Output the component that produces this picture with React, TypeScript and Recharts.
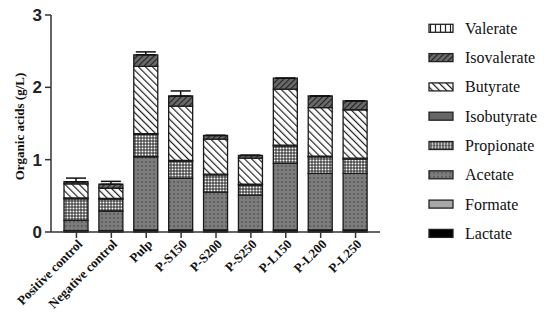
import { BarChart, Bar, XAxis, YAxis, Legend, ErrorBar, Label } from 'recharts'

const CATEGORIES = ['Positive control', 'Negative control', 'Pulp', 'P-S150', 'P-S200', 'P-S250', 'P-L150', 'P-L200', 'P-L250']

// g/L (bottom to top)
const LACTATE = [0.02, 0.02, 0.03, 0.03, 0.03, 0.03, 0.03, 0.03, 0.03]
const FORMATE = [0, 0, 0, 0, 0, 0, 0, 0, 0]
const ACETATE = [0.14, 0.27, 1.01, 0.71, 0.52, 0.48, 0.92, 0.78, 0.78]
const PROPIONATE = [0.3, 0.165, 0.31, 0.24, 0.24, 0.14, 0.24, 0.23, 0.2]
const ISOBUTYRATE = [0.01, 0.01, 0.01, 0.01, 0.01, 0.01, 0.01, 0.01, 0.01]
const BUTYRATE = [0.195, 0.14, 0.93, 0.75, 0.485, 0.36, 0.776, 0.67, 0.67]
const ISOVALERATE = [0.03, 0.055, 0.16, 0.14, 0.05, 0.04, 0.15, 0.16, 0.124]
const VALERATE = [0, 0, 0, 0, 0, 0, 0, 0, 0]
const TOTAL_ERR = [0.05, 0.04, 0.04, 0.07, 0, 0, 0, 0, 0]

const Y_TICKS = [0, 1, 2, 3]

const SERIES = [
  { key: 'Lactate', fill: '#000' },
  { key: 'Formate', fill: '#a8a8a8' },
  { key: 'Acetate', fill: 'url(#pAcetate)' },
  { key: 'Propionate', fill: 'url(#pPropionate)' },
  { key: 'Isobutyrate', fill: '#666' },
  { key: 'Butyrate', fill: 'url(#pButyrate)' },
  { key: 'Isovalerate', fill: 'url(#pIsovalerate)' },
  { key: 'Valerate', fill: 'url(#pValerate)' },
]

const data = CATEGORIES.map((name, i) => ({
  name,
  Lactate: LACTATE[i],
  Formate: FORMATE[i],
  Acetate: ACETATE[i],
  Propionate: PROPIONATE[i],
  Isobutyrate: ISOBUTYRATE[i],
  Butyrate: BUTYRATE[i],
  Isovalerate: ISOVALERATE[i],
  Valerate: VALERATE[i],
  err: [0, TOTAL_ERR[i]],
}))

const SERIF = 'Liberation Serif, Times New Roman, serif'

const XTick = ({ x, y, payload }: any) => (
  <g transform={`translate(${x + 4},${y + 2})`}>
    <text x={0} y={0} dy={4} textAnchor="end" transform="rotate(-45)"
      fontFamily={SERIF} fontWeight="bold" fontSize={13} fill="#111">
      {payload.value}
    </text>
  </g>
)

// legend drawn top-down, Valerate first
const LegendBox = () => (
  <svg width={122} height={240}>
    {[...SERIES].reverse().map((s, i) => (
      <g key={s.key} transform={`translate(0,${14.3 + i * 29.3})`}>
        <rect x={1} y={-4} width={24} height={8} fill={s.fill} stroke="#222" strokeWidth={1.3} />
        <text x={37} y={5.5} fontFamily={SERIF} fontSize={16} fill="#111">{s.key}</text>
      </g>
    ))}
  </svg>
)

export default function App() {
  return (
    <div style={{ position: 'absolute', left: 0, top: 0, background: '#fff' }}>
      <BarChart width={550} height={333} data={data} barSize={24}
        margin={{ top: 15, right: 48, bottom: 0, left: 0 }}>
        <defs>
          <pattern id="pValerate" width="5" height="5" patternUnits="userSpaceOnUse">
            <rect width="5" height="5" fill="#fff" />
            <line x1="2.5" y1="0" x2="2.5" y2="5" stroke="#222" strokeWidth="1.2" />
          </pattern>
          <pattern id="pIsovalerate" width="4" height="4" patternUnits="userSpaceOnUse" patternTransform="rotate(45)">
            <rect width="4" height="4" fill="#6a6a6a" />
            <line x1="0" y1="0" x2="0" y2="4" stroke="#222" strokeWidth="2.2" />
          </pattern>
          <pattern id="pButyrate" width="5" height="5" patternUnits="userSpaceOnUse" patternTransform="rotate(-45)">
            <rect width="5" height="5" fill="#fff" />
            <line x1="0" y1="0" x2="0" y2="5" stroke="#222" strokeWidth="2.4" />
          </pattern>
          <pattern id="pPropionate" width="3" height="3" patternUnits="userSpaceOnUse">
            <rect width="3" height="3" fill="#222" />
            <rect x="0.5" y="0.5" width="2" height="2" fill="#fff" />
          </pattern>
          <pattern id="pAcetate" width="4" height="4" patternUnits="userSpaceOnUse">
            <rect width="4" height="4" fill="#7c7c7c" />
            <circle cx="2" cy="2" r="0.7" fill="#333" />
          </pattern>
        </defs>
        <XAxis dataKey="name" interval={0} height={101} tickSize={6} padding={{ left: 8, right: 7 }}
          axisLine={{ stroke: '#333', strokeWidth: 1.5 }} tickLine={{ stroke: '#333', strokeWidth: 1.5 }}
          tick={<XTick />} />
        <YAxis domain={[0, 3]} ticks={Y_TICKS} width={51} tickSize={6} tickMargin={3}
          axisLine={{ stroke: '#333', strokeWidth: 1.5 }} tickLine={{ stroke: '#333', strokeWidth: 1.5 }}
          tick={{ fontFamily: 'Liberation Sans, Arial, sans-serif', fontWeight: 'bold', fontSize: 17, fill: '#222' }}>
          <Label value="Organic acids  (g/L)" angle={-90} position="center" dx={-6} dy={3}
            style={{ fontFamily: SERIF, fontWeight: 'bold', fontSize: 13, fill: '#111' }} />
        </YAxis>
        <Legend layout="vertical" align="right" verticalAlign="top" content={<LegendBox />}
          wrapperStyle={{ left: 428, top: 14, width: 122 }} />
        {SERIES.map(s => (
          <Bar key={s.key} dataKey={s.key} stackId="a" fill={s.fill} stroke="#1a1a1a" strokeWidth={1.3}
            isAnimationActive={false}>
            {s.key === 'Isovalerate' && (
              <ErrorBar dataKey="err" width={10} stroke="#111" strokeWidth={1.5} direction="y" />
            )}
          </Bar>
        ))}
      </BarChart>
    </div>
  )
}
